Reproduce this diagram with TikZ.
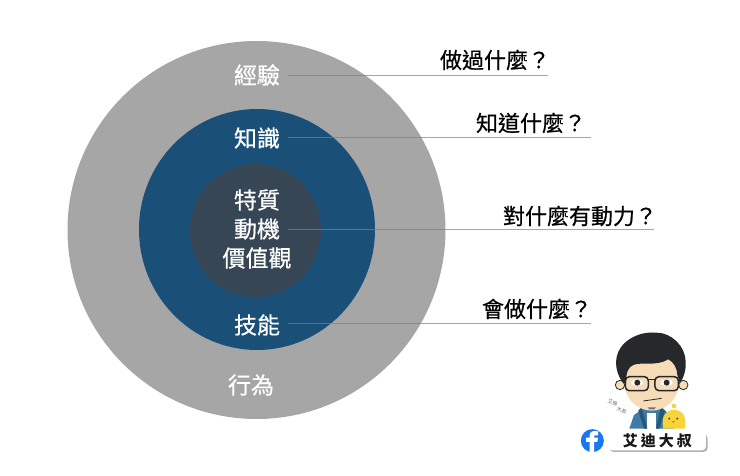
\documentclass[tikz,border=0pt]{standalone}
\usepackage{fontspec}
\setmainfont{Noto Sans CJK TC}
\newfontfamily\medcjk[FakeBold=0.6]{Noto Sans CJK TC}
\usepackage{tikz}
\usetikzlibrary{shapes.geometric}
\definecolor{ringgrey}{HTML}{A6A6A6}
\definecolor{ringblue}{HTML}{1A4F78}
\definecolor{ringdark}{HTML}{364655}
\definecolor{leadgrey}{HTML}{808080}
\definecolor{skin}{HTML}{F6DDB8}
\definecolor{hair}{HTML}{26282B}
\definecolor{shirt}{HTML}{3F7BA8}
\definecolor{chick}{HTML}{F7D53A}
\definecolor{fbblue}{HTML}{1877F2}
\tikzset{
  ring/.style = {ellipse, inner sep=0pt},
  inlabel/.style = {align=center, inner sep=0pt, text=white, font=\medcjk\fontsize{23}{29}\selectfont},
  outlabel/.style = {inner sep=0pt, text=black, font=\medcjk\fontsize{22}{27}\selectfont},
  leadline/.style = {leadgrey, opacity=0.7, line width=1.4pt},
  lens/.style = {draw=hair, line width=1.5pt, rounded corners=4pt},
  tinyname/.style = {rotate=-18, inner sep=0pt, text=black!60, font=\fontsize{5}{5}\selectfont}
}
\begin{document}
\begin{tikzpicture}[x=1pt,y=-1pt]
	\useasboundingbox (0,0) rectangle (740,476);
	% the three rings
	\node [ring, fill=ringgrey, minimum width=378pt, minimum height=378pt] (outer) at (256.5,230) {};
	\node [ring, fill=ringblue, minimum width=236pt, minimum height=241pt] (middle) at (257,229.5) {};
	\node [ring, fill=ringdark, minimum width=131pt, minimum height=133pt] (inner) at (255.5,230.5) {};
	% labels in the rings
	\node [inlabel] (jingyan) at (257,75) {經驗};
	\node [inlabel] (zhishi) at (257,138) {知識};
	\node [inlabel] (tezhi) at (257,200) {特質};
	\node [inlabel] (dongji) at (257,229) {動機};
	\node [inlabel] (jiazhi) at (257,258) {價值觀};
	\node [inlabel] (jineng) at (257,325) {技能};
	\node [inlabel] (xingwei) at (251,385) {行為};
	% questions on the right
	\node [outlabel] (qdone) at (495,60) {做過什麼？};
	\node [outlabel] (qknow) at (531,123) {知道什麼？};
	\node [outlabel] (qdrive) at (580,216) {對什麼有動力？};
	\node [outlabel] (qcan) at (537,309) {會做什麼？};
	% leader lines
	\coordinate (enddone) at (548,75.5);
	\coordinate (endknow) at (591,137.5);
	\coordinate (enddrive) at (654,229.5);
	\coordinate (endcan) at (591,323.5);
	\draw [leadline] (jingyan.east |- enddone) ++(8,0) coordinate (startdone) -- (enddone);
	\draw [leadline] (zhishi.east |- endknow) ++(8,0) coordinate (startknow) -- (endknow);
	\draw [leadline] (dongji.east |- enddrive) ++(8,0) coordinate (startdrive) -- (enddrive);
	\draw [leadline] (jineng.east |- endcan) ++(8,0) coordinate (startcan) -- (endcan);
	% the portrait, in the units of a 3x crop
	\begin{scope}[shift={(570,320)},x=0.3333pt,y=-0.3333pt]
		\fill [shirt] (178,326) -- (192,285) -- (225,262) -- (275,262) -- (300,285) -- (312,326) -- cycle;
		\fill [white] (232,326) -- (232,280) -- (258,280) -- (258,326) -- cycle;
		\fill [shirt!70!black] (215,262) -- (232,326) -- (222,326) -- (205,272) -- cycle;
		\fill [shirt!70!black] (272,262) -- (258,326) -- (268,326) -- (285,272) -- cycle;
		\filldraw [fill=skin, draw=hair, line width=0.8pt] (150,195) circle [radius=14];
		\filldraw [fill=skin, draw=hair, line width=0.8pt] (340,195) circle [radius=14];
		\fill [skin] (168,120) -- (322,120) -- (325,205) .. controls (318,245) and (280,272) .. (245,272) .. controls (210,272) and (172,245) .. (165,205) -- cycle;
		\fill [hair] (160,190) .. controls (130,150) and (130,100) .. (165,68) .. controls (190,45) and (225,35) .. (260,38) .. controls (305,38) and (347,80) .. (347,125) .. controls (349,150) and (340,175) .. (330,190) -- (322,165) .. controls (322,145) and (310,125) .. (295,118) .. controls (260,140) and (210,125) .. (190,135) .. controls (175,142) and (168,155) .. (168,190) -- cycle;
		\draw [lens] (166,170) rectangle (235,212);
		\draw [lens] (255,170) rectangle (325,212);
		\draw [hair, line width=1.5pt] (235,178) -- (255,178);
		\fill [white] (202,188) ellipse [x radius=19, y radius=9];
		\fill [white] (290,188) ellipse [x radius=19, y radius=9];
		\fill [hair] (202,188) circle [radius=9];
		\fill [hair] (290,188) circle [radius=9];
		\draw [hair, line width=0.8pt] (220,243) -- (275,235);
		\fill [black!55] (233,262) -- (258,262) -- (252,268) -- (238,268) -- cycle;
		\fill [chick] (280,326) .. controls (272,285) and (290,270) .. (312,270) .. controls (335,270) and (352,285) .. (344,326) -- cycle;
		\fill [chick] (312,258) circle [radius=7];
		\fill [hair] (298,296) circle [radius=3];
		\fill [hair] (322,296) circle [radius=3];
		\fill [orange] (305,303) -- (315,303) -- (310,309) -- cycle;
		\node [tinyname] (smallname) at (128,247) {艾迪};
		\node [tinyname] (smallsurname) at (155,271) {大叔};
		% facebook mark and name tag
		\node [ring, fill=fbblue, minimum width=23pt, minimum height=23pt] (fbmark) at (67,362) {};
		\fill [white] (59,397) -- (59,366) -- (48,366) -- (48,353) -- (59,353) -- (59,346) .. controls (59,334) and (70,331) .. (84,334) -- (84,346) .. controls (76,345) and (72,346) .. (72,350) -- (72,353) -- (84,353) -- (82,366) -- (72,366) -- (72,397) -- cycle;
		\fill [black!30, rounded corners=4pt] (119,343) rectangle (413,396);
		\fill [white, rounded corners=4pt] (115,337) rectangle (408,391);
		\node [inner sep=0pt, text=black!90, font=\fontsize{15}{15}\selectfont\bfseries] (tagname) at (262,363) {艾\hspace{3pt}迪\hspace{3pt}大\hspace{3pt}叔};
	\end{scope}
\end{tikzpicture}
\end{document}
